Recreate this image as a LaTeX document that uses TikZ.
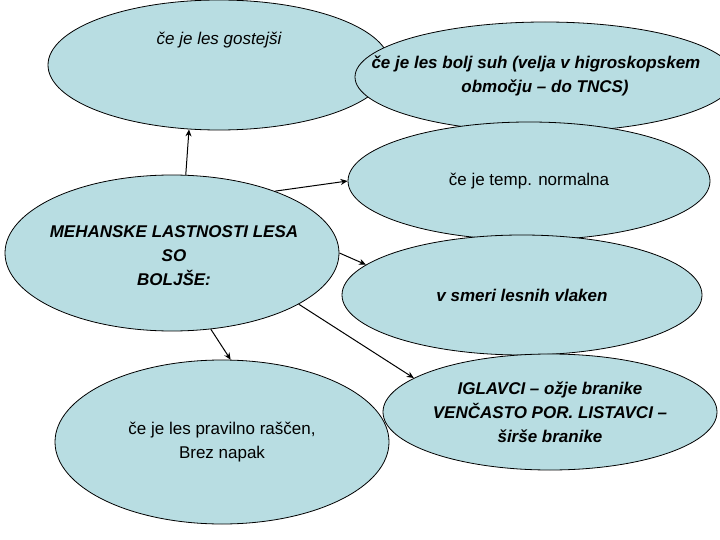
\documentclass[tikz,border=0pt]{standalone}
\usepackage{fontspec}
\setmainfont{Liberation Sans}
\usetikzlibrary{shapes.geometric,arrows.meta}
\definecolor{bubfill}{HTML}{B8DDE2}
\begin{document}
\begin{tikzpicture}[x=1pt,y=-1pt,
  bub/.style={ellipse,draw=black,line width=0.8pt,fill=bubfill,inner sep=0pt,align=center},
  fr/.style={font=\fontsize{17}{24}\selectfont},
  fb/.style={font=\fontsize{17}{24}\selectfont\bfseries\itshape},
  arr/.style={-{Stealth[length=7pt,width=6pt]},line width=1pt}]
\useasboundingbox (0,0) rectangle (720,540);
\node[bub,minimum width=342,minimum height=130] (n1) at (219,65) {};
\node[font=\fontsize{17}{24}\selectfont\itshape] (t1) at (219,40) {če je les gostejši};
\node[bub,minimum width=380,minimum height=110] (n2) at (545,77) {};
\node[fb,anchor=west] (t2) at (368,64) {če je les bolj suh (velja v higroskopskem};
\node[fb] (t2b) at (545,88) {območju -- do TNCS)};
\node[bub,minimum width=362,minimum height=118,fr] (n3) at (529,181) {če je temp. normalna};
\node[bub,minimum width=334,minimum height=156] (n4) at (172,253) {};
\node[fb,align=center] (t4) at (174,256) {MEHANSKE LASTNOSTI LESA\\SO\\BOLJŠE:};
\node[bub,minimum width=360,minimum height=120,fb] (n5) at (522,295) {v smeri lesnih vlaken};
\node[bub,minimum width=334,minimum height=164,fr] (n6) at (222,442) {če je les pravilno raščen,\\Brez napak};
\node[bub,minimum width=334,minimum height=116,fb] (n7) at (550,412) {IGLAVCI -- ožje branike\\VENČASTO POR. LISTAVCI --\\širše branike};
\draw[arr] (n4.80) -- (n1.245);
\draw[arr] (n4.31) -- (n3.180);
\draw[arr] (n4.0) -- (n5.169);
\draw[arr] (n4.338) -- (n7.166);
\draw[arr] (n4.297) -- (n6.84);
\end{tikzpicture}
\end{document}
